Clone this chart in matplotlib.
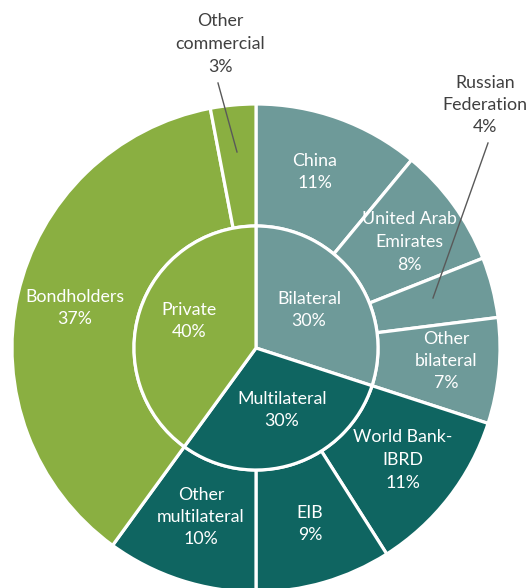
import matplotlib
matplotlib.use("Agg")
import matplotlib.pyplot as plt

# Data
groups = ["Bilateral", "Multilateral", "Private"]
group_values = [30, 30, 40]
segments = ["China", "United Arab Emirates", "Russian Federation", "Other bilateral",
            "World Bank-IBRD", "EIB", "Other multilateral",
            "Bondholders", "Other commercial"]
segment_values = [11, 8, 4, 7, 11, 9, 10, 37, 3]
segment_group = [0, 0, 0, 0, 1, 1, 1, 2, 2]

# Style
group_colors = ["#6e9a99", "#0f6561", "#8aaf41"]
W, H = 530, 588
CX, CY = 256, 348  # pixel coords (y from top)
R_OUT, R_IN = 244, 122
plt.rcParams["font.family"] = ["Lato", "DejaVu Sans"]

fig = plt.figure(figsize=(W / 100, H / 100), dpi=100)
ax = fig.add_axes([0, 0, 1, 1])
center = (CX, H - CY)
wp = dict(edgecolor="white", linewidth=2.3)
ax.pie(segment_values, radius=R_OUT, center=center, startangle=90, counterclock=False,
       colors=[group_colors[g] for g in segment_group],
       wedgeprops=dict(width=R_OUT - R_IN, **wp))
ax.pie(group_values, radius=R_IN, center=center, startangle=90, counterclock=False,
       colors=group_colors, wedgeprops=wp)
ax.set_xlim(0, W)
ax.set_ylim(0, H)
ax.set_aspect("equal")
ax.axis("off")

# Labels (pixel positions, y from top)
white = "white"
dark = "#404040"
fs = 12.8
labels = [
    ("China\n11%", 315, 172, white),
    ("United Arab\nEmirates\n8%", 409, 242, white),
    ("Other\nbilateral\n7%", 446, 361, white),
    ("World Bank-\nIBRD\n11%", 403, 460, white),
    ("EIB\n9%", 310, 524, white),
    ("Other\nmultilateral\n10%", 201, 517, white),
    ("Bondholders\n37%", 75, 308, white),
    ("Private\n40%", 189, 321, white),
    ("Bilateral\n30%", 309, 310, white),
    ("Multilateral\n30%", 282, 410, white),
    ("Other\ncommercial\n3%", 220, 44, dark),
    ("Russian\nFederation\n4%", 485, 105, dark),
]
for txt, x, y, c in labels:
    ax.text(x, H - y, txt, ha="center", va="center", color=c, fontsize=fs,
            linespacing=1.5)

# Leader lines
ax.plot([218, 237], [H - 83, H - 152], color="#595959", lw=1.0)
ax.plot([488, 433], [H - 143, H - 298], color="#595959", lw=1.0)

fig.savefig("out.png", dpi=100)
